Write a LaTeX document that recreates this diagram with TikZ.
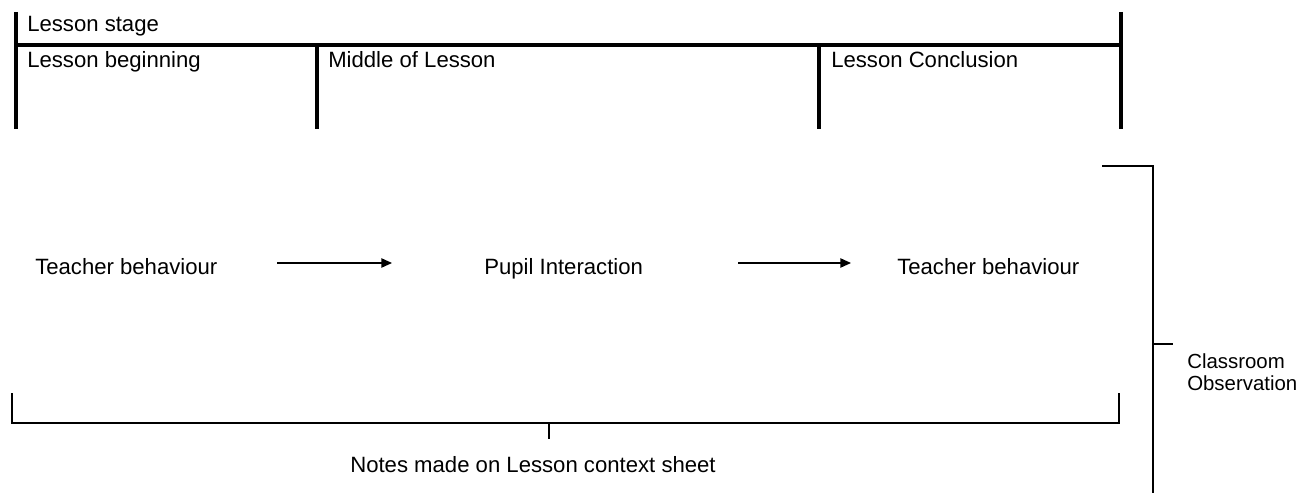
\documentclass[tikz,border=0pt]{standalone}
\usepackage{fontspec}
\setmainfont{Liberation Sans}
\usetikzlibrary{arrows.meta}
\begin{document}
\begin{tikzpicture}[x=0.75pt,y=-0.75pt,
  lbl/.style={anchor=base west,inner sep=0pt,font=\fontsize{16.6}{20}\selectfont},
  side/.style={anchor=base west,inner sep=0pt,align=left,font=\fontsize{15.3}{16.5}\selectfont},
  frame/.style={line width=2.6pt},
  bracket/.style={line width=1.1pt},
  flow/.style={line width=1.1pt,-{Triangle[length=8pt,width=7pt]}}]
\useasboundingbox (0,0) rectangle (1311,499);

% lesson stage frame
\coordinate (ftl) at (16,12);
\coordinate (fbl) at (16,129);
\coordinate (ftr) at (1121,12);
\coordinate (fbr) at (1121,129);
\coordinate (hl) at (16,45);
\coordinate (hr) at (1121,45);
\coordinate (d1t) at (317,45);
\coordinate (d1b) at (317,129);
\coordinate (d2t) at (819,45);
\coordinate (d2b) at (819,129);
\draw[frame] (ftl) -- (fbl);
\draw[frame] (ftr) -- (fbr);
\draw[frame] (hl) -- (hr);
\draw[frame] (d1t) -- (d1b);
\draw[frame] (d2t) -- (d2b);

\node[lbl] (stage)  at (27,32)  {Lesson stage};
\node[lbl] (begin)  at (27,68)  {Lesson beginning};
\node[lbl] (middle) at (328,68) {Middle of Lesson};
\node[lbl] (concl)  at (831,68) {Lesson Conclusion};

% behaviour sequence
\node[lbl] (tb1)   at (35,274)  {Teacher behaviour};
\node[lbl] (pupil) at (484,274) {Pupil Interaction};
\node[lbl] (tb2)   at (897,274) {Teacher behaviour};
\coordinate (a1s) at (277,263);
\coordinate (a1e) at (392,263);
\coordinate (a2s) at (738,263);
\coordinate (a2e) at (851,263);
\draw[flow] (a1s) -- (a1e);
\draw[flow] (a2s) -- (a2e);

% context sheet bracket
\coordinate (bl) at (12,393);
\coordinate (br) at (1119,393);
\coordinate (bt) at (549,423);
\coordinate (btt) at (549,439);
\draw[bracket] (bl) |- (bt) -| (br);
\draw[bracket] (bt) -- (btt);
\node[lbl] (notes) at (350,472) {Notes made on Lesson context sheet};

% observation bracket
\coordinate (ot) at (1102,166);
\coordinate (oc) at (1153,166);
\coordinate (ob) at (1153,493);
\coordinate (om) at (1153,344);
\coordinate (omt) at (1173,344);
\draw[bracket] (ot) -- (oc) -- (ob);
\draw[bracket] (om) -- (omt);
\node[side] (obs) at (1187,390) {Classroom\\Observation};
\end{tikzpicture}
\end{document}
